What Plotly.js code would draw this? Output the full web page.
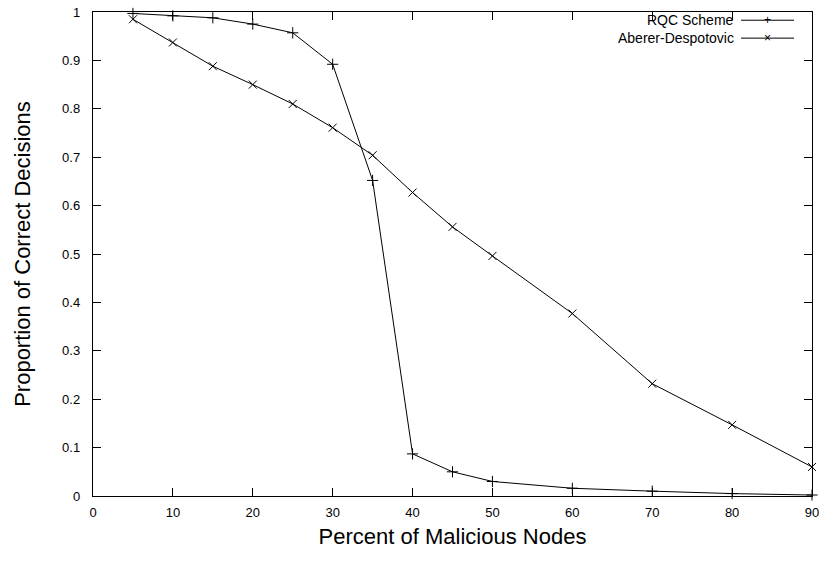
<!DOCTYPE html>
<html>
<head>
<meta charset="utf-8">
<script src="https://cdn.plot.ly/plotly-3.0.1.min.js"></script>
<style>html,body{margin:0;padding:0;background:#fff;}#chart{width:822px;height:575px;}</style>
</head>
<body>
<div id="chart"></div>
<script>
const percentMalicious = [5, 10, 15, 20, 25, 30, 35, 40, 45, 50, 60, 70, 80, 90];
const rqcScheme = [0.997, 0.992, 0.988, 0.975, 0.957, 0.892, 0.652, 0.087, 0.050, 0.030, 0.016, 0.010, 0.005, 0.002];
const abererDespotovic = [0.985, 0.937, 0.888, 0.850, 0.810, 0.761, 0.704, 0.627, 0.556, 0.496, 0.377, 0.232, 0.147, 0.060];
const seriesNames = ["RQC Scheme", "Aberer-Despotovic"];
const xTicks = [0, 10, 20, 30, 40, 50, 60, 70, 80, 90];
const yTicks = [0, 0.1, 0.2, 0.3, 0.4, 0.5, 0.6, 0.7, 0.8, 0.9, 1];

const FONT = "Liberation Sans, Arial, Helvetica, sans-serif";

const traces = [
  {
    x: percentMalicious, y: rqcScheme, name: seriesNames[0], type: "scatter", mode: "lines+markers",
    line: {color: "#000", width: 1},
    marker: {symbol: "cross-thin", size: 8, color: "#000", line: {color: "#000", width: 1}},
    cliponaxis: false, showlegend: false
  },
  {
    x: percentMalicious, y: abererDespotovic, name: seriesNames[1], type: "scatter", mode: "lines+markers",
    line: {color: "#000", width: 1},
    marker: {symbol: "x-thin", size: 8, color: "#000", line: {color: "#000", width: 1}},
    cliponaxis: false, showlegend: false
  }
];

const axisCommon = {
  showgrid: false, zeroline: false, showline: true, linecolor: "#000", linewidth: 1.2,
  mirror: "allticks", ticks: "inside", ticklen: 8, tickwidth: 1, tickcolor: "#000",
  tickfont: {family: FONT, size: 13, color: "#000"}
};

// legend (gnuplot style: text then sample)
const legendY = [0.983, 0.946];
const annotations = [];
const shapes = [];
seriesNames.forEach((n, i) => {
  annotations.push({xref: "paper", yref: "paper", x: 0.8947, y: legendY[i], xanchor: "right", yanchor: "middle",
    text: n, showarrow: false, font: {family: FONT, size: 14, color: "#000"}});
  shapes.push({type: "line", xref: "paper", yref: "paper", x0: 0.9013, x1: 0.9750, y0: legendY[i], y1: legendY[i],
    line: {color: "#000", width: 1}});
  annotations.push({xref: "paper", yref: "paper", x: 0.9375, y: legendY[i], xanchor: "center", yanchor: "middle",
    text: i === 0 ? "+" : "×", showarrow: false, font: {family: FONT, size: 12, color: "#000"}});
});

const layout = {
  width: 822, height: 575,
  margin: {l: 93, r: 10, t: 12, b: 79},
  paper_bgcolor: "#fff", plot_bgcolor: "#fff",
  font: {family: FONT, color: "#000"},
  xaxis: Object.assign({}, axisCommon, {
    range: [0, 90], tickvals: xTicks, ticktext: xTicks.map(String), ticklabelstandoff: 4,
    title: {text: "Percent of Malicious Nodes", font: {family: FONT, size: 22, color: "#000"}, standoff: 9}
  }),
  yaxis: Object.assign({}, axisCommon, {
    range: [0, 1], tickvals: yTicks, ticktext: yTicks.map(v => String(v)), ticklabelstandoff: 9,
    title: {text: "Proportion of Correct Decisions", font: {family: FONT, size: 22, color: "#000"}, standoff: 25}
  }),
  annotations: annotations,
  shapes: shapes
};

Plotly.newPlot("chart", traces, layout, {displayModeBar: false, staticPlot: true});
</script>
</body>
</html>
